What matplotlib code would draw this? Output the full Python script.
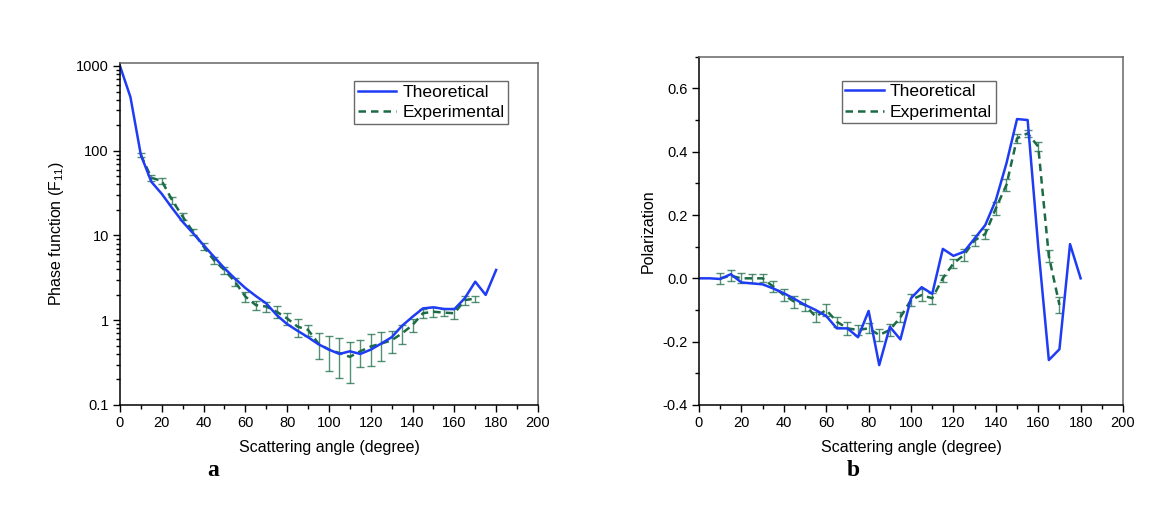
# Phase function and polarization: theoretical vs. experimental
import numpy as np
from matplotlib import pyplot as plt
from matplotlib.ticker import MultipleLocator, LogLocator, NullFormatter

# scattering angles
ang_theo = list(range(0, 181, 5))
ang_exp = list(range(10, 171, 5))

# (a) phase function F11
f11_theo = [1000, 430, 89, 43, 31, 21, 14.5, 10.6, 7.7, 5.6, 4.1, 3.1, 2.4, 1.93, 1.58,
            1.15, 0.90, 0.75, 0.63, 0.52, 0.45, 0.40, 0.43, 0.40, 0.45, 0.53, 0.63, 0.86,
            1.10, 1.38, 1.42, 1.36, 1.35, 1.82, 2.85, 1.99, 3.92]
f11_exp = [89, 48, 44, 26, 16.7, 11, 7.4, 5.1, 3.9, 2.85, 1.9, 1.51, 1.45, 1.26, 1.05,
           0.84, 0.77, 0.53, 0.45, 0.41, 0.37, 0.43, 0.49, 0.53, 0.58, 0.70, 0.88, 1.21,
           1.26, 1.23, 1.21, 1.73, 1.80]
f11_err = [4, 4, 4, 2.5, 1.5, 1.0, 0.7, 0.5, 0.35, 0.3, 0.25, 0.18, 0.2, 0.2, 0.18,
           0.2, 0.12, 0.18, 0.2, 0.2, 0.19, 0.15, 0.2, 0.2, 0.17, 0.17, 0.16, 0.15,
           0.17, 0.12, 0.17, 0.2, 0.15]

# (b) polarization
pol_theo = [0.0, 0.0, -0.002, 0.013, -0.013, -0.016, -0.019, -0.032, -0.047, -0.065,
            -0.084, -0.10, -0.119, -0.158, -0.158, -0.186, -0.103, -0.274, -0.153, -0.193,
            -0.063, -0.028, -0.049, 0.093, 0.071, 0.084, 0.126, 0.168, 0.247, 0.363,
            0.503, 0.50, 0.10, -0.258, -0.224, 0.108, 0.0]
pol_exp = [0.0, 0.008, 0.0, 0.0, 0.0, -0.026, -0.053, -0.074, -0.084, -0.121, -0.100,
           -0.137, -0.158, -0.163, -0.158, -0.179, -0.163, -0.123, -0.068, -0.053, -0.063,
           0.0, 0.047, 0.074, 0.12, 0.14, 0.221, 0.295, 0.442, 0.458, 0.416, 0.07, -0.084]
pol_err = [0.018, 0.018, 0.016, 0.015, 0.013, 0.016, 0.019, 0.019, 0.018, 0.016, 0.018,
           0.016, 0.02, 0.016, 0.016, 0.02, 0.018, 0.016, 0.018, 0.02, 0.018, 0.012,
           0.013, 0.018, 0.018, 0.015, 0.02, 0.018, 0.015, 0.012, 0.015, 0.02, 0.026]

BLUE = '#1f3cf5'
GREEN = '#1b6b45'

plt.rcParams['font.family'] = ['Liberation Sans', 'DejaVu Sans']
plt.rcParams['mathtext.default'] = 'regular'

fig = plt.figure(figsize=(11.74, 5.08), dpi=100)
ax1 = fig.add_axes([0.1022, 0.2028, 0.3560, 0.6732])
ax2 = fig.add_axes([0.5954, 0.2028, 0.3612, 0.6856])


def style_axis(ax):
    for side in ['left', 'bottom']:
        ax.spines[side].set_color('black')
        ax.spines[side].set_linewidth(1.1)
    for side in ['top', 'right']:
        ax.spines[side].set_color('#666666')
        ax.spines[side].set_linewidth(1.1)
    ax.tick_params(which='major', direction='out', length=5, width=1, labelsize=10.5, pad=3)
    ax.tick_params(which='minor', direction='out', length=3, width=1)
    ax.tick_params(top=False, right=False, which='both')
    ax.set_xlim(0, 200)
    ax.xaxis.set_major_locator(MultipleLocator(20))
    ax.xaxis.set_minor_locator(MultipleLocator(10))
    ax.set_xlabel('Scattering angle (degree)', fontsize=11.5, labelpad=7)


def add_legend(ax, anchor, loc):
    h, l = ax.get_legend_handles_labels()
    ax.legend(h[::-1], l[::-1], loc=loc, bbox_to_anchor=anchor,
              fontsize=12.6, frameon=True, fancybox=False, edgecolor='#444444',
              handlelength=2.2, borderpad=0.2, labelspacing=0.3, handletextpad=0.35,
              borderaxespad=0)


# 子图 a
ax1.errorbar(ang_exp, f11_exp, yerr=f11_err, fmt='none', ecolor=GREEN, elinewidth=1,
             capsize=3, alpha=0.75)
ax1.plot(ang_exp, f11_exp, color=GREEN, linestyle='--', linewidth=1.8, dashes=(3, 2),
         label='Experimental')
ax1.plot(ang_theo, f11_theo, color=BLUE, linewidth=1.8, label='Theoretical')
ax1.set_yscale('log')
ax1.set_ylim(0.1, 1085)
ax1.yaxis.set_minor_locator(LogLocator(base=10, subs=np.arange(2, 10), numticks=10))
ax1.yaxis.set_minor_formatter(NullFormatter())
ax1.set_yticks([0.1, 1, 10, 100, 1000])
ax1.set_yticklabels(['0.1', '1', '10', '100', '1000'])
ax1.set_ylabel('Phase function (F$_{11}$)', fontsize=11.5, labelpad=7)
style_axis(ax1)
add_legend(ax1, (0.928, 0.947), 'upper right')

# 子图 b
ax2.errorbar(ang_exp, pol_exp, yerr=pol_err, fmt='none', ecolor=GREEN, elinewidth=1,
             capsize=3, alpha=0.75)
ax2.plot(ang_exp, pol_exp, color=GREEN, linestyle='--', linewidth=1.8, dashes=(3, 2),
         label='Experimental')
ax2.plot(ang_theo, pol_theo, color=BLUE, linewidth=1.8, label='Theoretical')
ax2.set_ylim(-0.4, 0.7)
ax2.yaxis.set_major_locator(MultipleLocator(0.2))
ax2.yaxis.set_minor_locator(MultipleLocator(0.1))
ax2.yaxis.set_major_formatter(plt.FuncFormatter(lambda v, p: '%.1f' % v))
ax2.set_ylabel('Polarization', fontsize=11.5, labelpad=5)
style_axis(ax2)
add_legend(ax2, (0.337, 0.931), 'upper left')

# panel letters
fig.text(213 / 1174, 1 - 471 / 508, 'a', fontsize=17, fontweight='bold',
         family='Liberation Serif', ha='center', va='center')
fig.text(853 / 1174, 1 - 471 / 508, 'b', fontsize=17, fontweight='bold',
         family='Liberation Serif', ha='center', va='center')

plt.savefig('out.png', dpi=100)
